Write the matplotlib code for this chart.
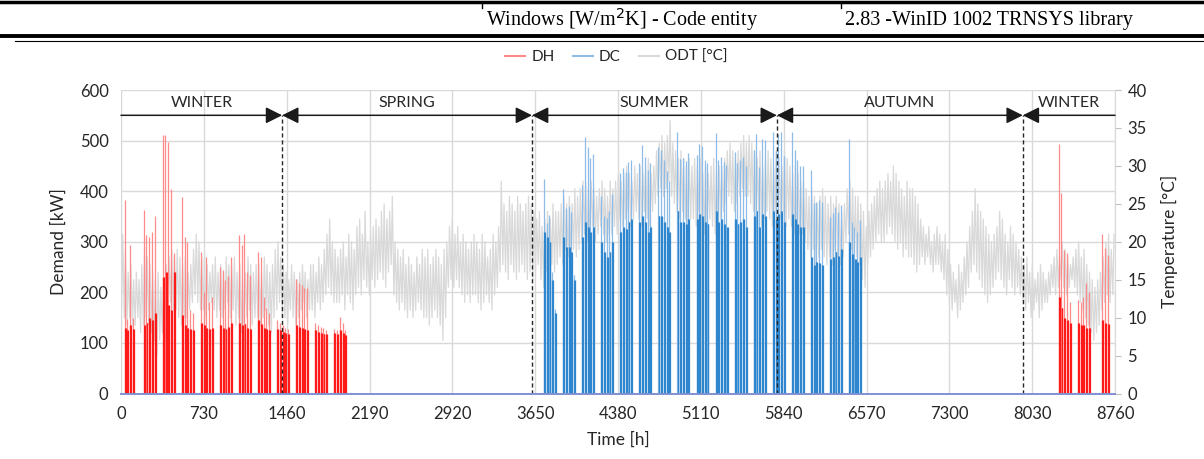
import matplotlib.pyplot as plt
from matplotlib.lines import Line2D
import numpy as np

# daily outdoor dry-bulb temperature extremes [°C], day 0 .. 364
odt_max = [
    21, 19, 16, 17, 15, 16, 15, 17, 19, 18,
    17, 16, 15, 16, 14, 15, 17, 18, 19, 18,
    19, 18, 17, 18, 16, 17, 19, 21, 20, 18,
    18, 17, 16, 17, 18, 16, 17, 16, 18, 17,
    17, 18, 16, 17, 15, 16, 18, 17, 16, 17,
    17, 16, 18, 17, 16, 17, 19, 20, 18, 17,
    16, 15, 17, 16, 15, 16, 17, 16, 15, 17,
    17, 16, 18, 17, 19, 21, 23, 20, 19, 18,
    19, 20, 18, 21, 20, 19, 22, 23, 21, 24,
    20, 21, 22, 23, 22, 24, 25, 23, 24, 26,
    20, 19, 18, 19, 17, 18, 17, 16, 18, 17,
    19, 18, 19, 17, 18, 19, 18, 17, 19, 20,
    22, 23, 21, 22, 20, 21, 20, 19, 20, 21,
    20, 19, 21, 20, 18, 19, 21, 20, 22, 28,
    25, 24, 26, 25, 24, 26, 25, 24, 25, 26,
    25, 24, 23, 24, 22, 23, 24, 23, 25, 24,
    24, 25, 26, 25, 26, 25, 27, 26, 27, 28,
    28, 27, 28, 27, 26, 27, 28, 27, 26, 28,
    27, 28, 29, 28, 29, 30, 29, 28, 30, 29,
    30, 29, 30, 31, 29, 30, 32, 33, 34, 33,
    34, 36, 33, 32, 31, 32, 31, 30, 31, 30,
    31, 30, 31, 29, 30, 29, 30, 31, 29, 30,
    30, 31, 32, 33, 32, 31, 32, 33, 34, 33,
    34, 33, 32, 31, 32, 30, 31, 32, 31, 30,
    32, 31, 30, 32, 31, 30, 29, 30, 29, 28,
    28, 27, 26, 27, 26, 25, 26, 27, 26, 25,
    26, 25, 26, 25, 24, 25, 27, 28, 27, 26,
    26, 25, 24, 22, 24, 25, 26, 27, 28, 27,
    28, 29, 28, 30, 29, 28, 27, 26, 28, 27,
    27, 26, 25, 23, 22, 21, 22, 20, 21, 22,
    21, 20, 21, 19, 17, 16, 15, 17, 16, 18,
    20, 22, 24, 27, 25, 24, 23, 22, 21, 20,
    21, 22, 24, 23, 21, 20, 22, 21, 20, 19,
    18, 17, 18, 16, 17, 15, 16, 17, 16, 15,
    16, 17, 18, 19, 18, 20, 19, 18, 17, 18,
    19, 20, 18, 19, 17, 16, 15, 14, 15, 16,
    18, 20, 21, 19, 21,
]
odt_min = [
    11, 10, 9, 10, 9, 9, 10, 8, 9, 10,
    9, 8, 7, 5, 7, 8, 10, 11, 12, 11,
    11, 10, 9, 10, 10, 11, 12, 13, 12, 11,
    11, 10, 11, 12, 11, 10, 11, 10, 11, 12,
    10, 11, 9, 10, 8, 9, 10, 11, 9, 10,
    10, 9, 10, 11, 9, 8, 10, 11, 12, 10,
    10, 9, 11, 10, 9, 10, 11, 12, 10, 11,
    11, 10, 12, 11, 12, 13, 14, 13, 12, 12,
    12, 13, 11, 13, 12, 11, 13, 14, 13, 15,
    14, 13, 15, 14, 15, 16, 15, 14, 16, 17,
    13, 12, 11, 12, 11, 10, 11, 10, 11, 12,
    11, 10, 10, 9, 10, 11, 10, 9, 7, 10,
    14, 15, 14, 15, 14, 13, 12, 13, 12, 13,
    13, 12, 11, 12, 13, 12, 11, 13, 14, 16,
    17, 16, 15, 17, 16, 15, 16, 17, 16, 15,
    16, 15, 16, 17, 15, 14, 16, 15, 17, 16,
    17, 18, 17, 19, 18, 17, 19, 18, 19, 20,
    21, 20, 21, 22, 20, 21, 22, 21, 20, 21,
    21, 22, 21, 23, 22, 23, 24, 22, 23, 24,
    23, 22, 24, 23, 22, 24, 25, 26, 27, 26,
    27, 28, 26, 25, 24, 23, 24, 23, 22, 23,
    23, 22, 24, 22, 21, 22, 23, 22, 21, 23,
    23, 24, 25, 26, 25, 24, 25, 26, 27, 26,
    26, 25, 24, 23, 24, 22, 23, 24, 23, 22,
    24, 25, 23, 24, 22, 23, 22, 21, 22, 21,
    21, 20, 19, 18, 19, 17, 18, 19, 18, 17,
    18, 17, 19, 18, 17, 18, 20, 21, 19, 18,
    18, 17, 15, 14, 17, 18, 19, 20, 21, 20,
    20, 21, 22, 21, 20, 19, 20, 18, 19, 18,
    18, 17, 16, 17, 18, 17, 18, 17, 16, 17,
    17, 16, 15, 13, 12, 11, 12, 10, 11, 12,
    13, 14, 16, 17, 16, 15, 14, 13, 12, 13,
    14, 15, 16, 15, 14, 13, 15, 14, 13, 14,
    13, 12, 11, 12, 10, 11, 12, 10, 11, 12,
    12, 13, 14, 13, 14, 15, 14, 13, 14, 15,
    14, 13, 12, 11, 10, 9, 8, 7, 8, 9,
    11, 12, 13, 12, 13,
]

# heating (DH) working days: morning peak and daytime level [kW]
dh_days = [1, 2, 3, 4,
           8, 9, 10, 11, 12,
           15, 16, 17, 18, 19,
           22, 23, 24, 25, 26,
           29, 30, 31, 32, 33,
           36, 37, 38, 39, 40,
           43, 44, 45, 46, 47,
           50, 51, 52, 53, 54,
           57, 58, 59, 60, 61,
           64, 65, 66, 67, 68,
           71, 72, 73, 74, 75,
           78, 79, 80, 81, 82,
           344, 345, 346, 347, 348,
           351, 352, 353, 354, 355,
           360, 361, 362]
dh_peak = [382, 148, 293, 150,
           363, 313, 310, 320, 350,
           511, 511, 498, 405, 277,
           389, 310, 300, 165, 160,
           280, 200, 270, 180, 190,
           250, 244, 225, 232, 270,
           313, 293, 316, 240, 234,
           280, 270, 190, 170, 160,
           145, 140, 135, 130, 128,
           227, 218, 214, 208, 208,
           140, 135, 132, 130, 125,
           128, 125, 152, 140, 126,
           494, 396, 283, 277, 181,
           185, 181, 190, 218, 200,
           316, 287, 274]
dh_base = [130, 125, 135, 128,
           135, 140, 150, 145, 160,
           230, 240, 175, 165, 240,
           155, 135, 130, 128, 125,
           140, 135, 130, 128, 130,
           135, 130, 128, 132, 140,
           140, 135, 138, 130, 128,
           145, 138, 130, 128, 125,
           128, 125, 122, 120, 118,
           135, 132, 130, 128, 125,
           125, 122, 120, 118, 118,
           120, 118, 125, 120, 115,
           190, 170, 150, 145, 140,
           140, 135, 135, 130, 130,
           145, 140, 138]

# cooling (DC) working days
dc_days = [155, 156, 157, 158, 159,
           162, 163, 164, 165, 166,
           169, 170, 171, 172, 173,
           176, 177, 178, 179, 180,
           183, 184, 185, 186, 187,
           190, 191, 192, 193, 194,
           197, 198, 199, 200, 201,
           204, 205, 206, 207, 208,
           211, 212, 213, 214, 215,
           218, 219, 220, 221, 222,
           225, 226, 227, 228, 229,
           232, 233, 234, 235, 236,
           239, 240, 241, 242, 243,
           246, 247, 248, 249, 250,
           253, 254, 255, 256, 257,
           260, 261, 262, 263, 264,
           267, 268, 269, 270, 271]
dc_peak = [425, 338, 353, 240, 168,
           405, 366, 370, 359, 234,
           412, 508, 488, 465, 473,
           390, 350, 346, 360, 395,
           435, 445, 438, 458, 462,
           455, 492, 468, 442, 455,
           488, 481, 462, 440, 420,
           517, 463, 465, 460, 475,
           471, 494, 490, 462, 455,
           515, 462, 468, 458, 452,
           478, 455, 462, 468, 450,
           481, 514, 448, 504, 501,
           517, 480, 514, 517, 470,
           517, 481, 461, 450, 450,
           442, 376, 379, 382, 379,
           349, 356, 369, 359, 372,
           504, 340, 330, 320, 343]
dc_base = [320, 310, 300, 225, 160,
           310, 290, 290, 280, 225,
           310, 340, 330, 320, 330,
           300, 280, 270, 280, 300,
           320, 330, 325, 340, 345,
           340, 350, 340, 320, 330,
           350, 350, 340, 330, 320,
           360, 340, 340, 335, 345,
           345, 355, 350, 340, 335,
           360, 340, 345, 335, 330,
           345, 335, 340, 345, 330,
           350, 360, 330, 355, 350,
           360, 345, 355, 360, 340,
           355, 345, 335, 330, 330,
           270, 255, 260, 258, 255,
           265, 270, 280, 272, 285,
           300, 275, 265, 260, 270]

seasons = ["WINTER", "SPRING", "SUMMER", "AUTUMN", "WINTER"]
season_edges = [0, 1420, 3622, 5780, 7947, 8760]
x_ticks = list(range(0, 8761, 730))

plt.rcParams['font.family'] = ['Lato', 'DejaVu Sans']

fig = plt.figure(figsize=(12.04, 4.59), dpi=100)
ax = fig.add_axes([0.1005, 0.1427, 0.8256, 0.6612])
ax2 = ax.twinx()
# demand on top, temperature underneath
ax.set_zorder(2)
ax2.set_zorder(1)
ax.patch.set_visible(False)

# outdoor temperature, one min/max swing per day
days = np.arange(len(odt_max))
t_h = np.column_stack([days * 24 + 5, days * 24 + 15]).ravel()
t_v = np.column_stack([odt_min, odt_max]).ravel()
ax2.plot(t_h, t_v, color='#d9d9d9', lw=0.9)

# demand spikes: light line up to the peak, solid lines for the daytime level
def draw_demand(day_list, peak, base, light, solid):
    d = np.array(day_list)
    ax.vlines(d * 24 + 8, 0, peak, colors=light, lw=0.9)
    ax.vlines(d * 24 + 9, 0, base, colors=solid, lw=0.9)
    ax.vlines(d * 24 + 17, 0, base, colors=solid, lw=0.9)

draw_demand(dh_days, dh_peak, dh_base, '#ff8a8a', '#ff1a1a')
draw_demand(dc_days, dc_peak, dc_base, '#8dbde6', '#2e86cf')

ax.set_xlim(0, 8760)
ax.set_ylim(0, 600)
ax2.set_ylim(0, 40)
ax.set_xticks(x_ticks)
ax.set_yticks(range(0, 601, 100))
ax2.set_yticks(range(0, 41, 5))
ax.set_axisbelow(True)
ax.grid(True, color='#d9d9d9', lw=1, zorder=0)

for s in ['top', 'left', 'right']:
    ax.spines[s].set_visible(False)
    ax2.spines[s].set_visible(False)
ax2.spines['bottom'].set_visible(False)
ax.spines['bottom'].set_color('#8190d2')
ax.spines['bottom'].set_linewidth(1.4)
ax.spines['bottom'].set_zorder(3)
ax2.spines['right'].set_visible(True)
ax2.spines['right'].set_color('#d9d9d9')

ax.tick_params(axis='y', length=0, pad=9, labelsize=12, labelcolor='#262626')
ax.tick_params(axis='x', length=0, pad=9, labelsize=12, labelcolor='#262626')
ax2.tick_params(axis='y', length=4, color='#bfbfbf', pad=5, labelsize=12,
                labelcolor='#262626')

ax.set_xlabel('Time [h]', fontsize=12.5, color='#262626', labelpad=7)
ax.set_ylabel('Demand [kW]', fontsize=12.5, color='#262626', labelpad=9)
ax2.set_ylabel('Temperature [°C]', fontsize=12.5, color='#262626', labelpad=10)

# season bands with arrow heads meeting at each boundary
for i, name in enumerate(seasons):
    a, b = season_edges[i], season_edges[i + 1]
    if i == 0:
        style = '-|>'
    elif i == len(seasons) - 1:
        style = '<|-'
    else:
        style = '<|-|>'
    ax.annotate('', xy=(b, 550), xytext=(a, 550),
                arrowprops=dict(arrowstyle=style + ',head_length=1.0,head_width=0.5',
                                color='#1a1a1a', lw=1.1, shrinkA=0, shrinkB=0))
    ax.text((a + b) / 2, 574, name, ha='center', va='center', fontsize=11.5,
            color='#262626')
ax.vlines(season_edges[1:-1], 0, 550, colors='#262626', lw=1,
          linestyles=(0, (3, 2)))

# legend
handles = [Line2D([], [], color='#ff8a8a', lw=1.5),
           Line2D([], [], color='#8dbde6', lw=1.5),
           Line2D([], [], color='#d9d9d9', lw=1.5)]
fig.legend(handles, ['DH', 'DC', 'ODT [°C]'], loc='center',
           bbox_to_anchor=(0.512, 1 - 57 / 459), ncol=3, frameon=False,
           handlelength=1.3, handletextpad=0.4, columnspacing=1.2,
           fontsize=11, labelcolor='#262626')

# table row above the chart
fig.add_artist(Line2D([0, 1], [1 - 2 / 459] * 2, color='black', lw=2.5))
fig.add_artist(Line2D([482 / 1204] * 2, [1 - 2 / 459, 1 - 8 / 459], color='black', lw=1))
fig.add_artist(Line2D([841 / 1204] * 2, [1 - 2 / 459, 1 - 8 / 459], color='black', lw=1))
fig.add_artist(Line2D([0, 1], [1 - 36 / 459] * 2, color='black', lw=2.8))
fig.add_artist(Line2D([15 / 1204, 1], [1 - 40.5 / 459] * 2, color='black', lw=0.8))
fig.text(486 / 1204, 1 - 20 / 459, 'Windows [W/m$^2$K] - Code entity',
         family='Liberation Serif', fontsize=14.5, va='center', ha='left')
fig.text(845 / 1204, 1 - 20 / 459, '2.83 -WinID 1002 TRNSYS library',
         family='Liberation Serif', fontsize=14.5, va='center', ha='left')

fig.savefig('out.png', dpi=100)
